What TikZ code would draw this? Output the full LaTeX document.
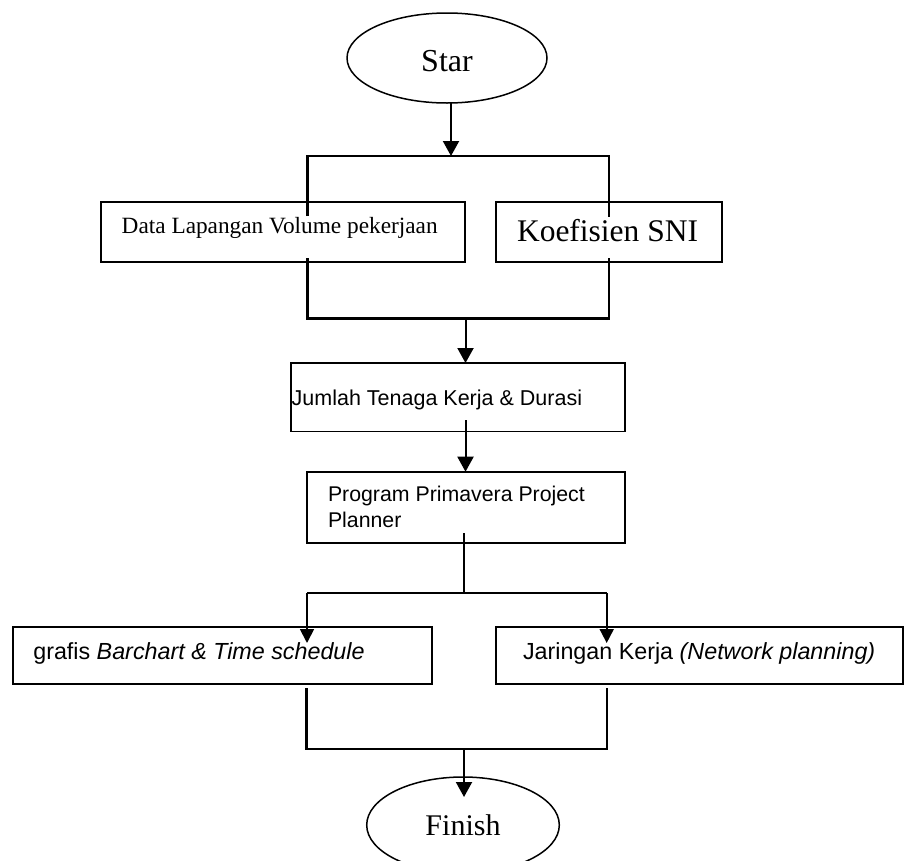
\documentclass[tikz,border=0pt]{standalone}
\usepackage{fontspec}
\setmainfont{Liberation Serif}
\newfontfamily\sansf{Liberation Sans}
\usetikzlibrary{arrows.meta,shapes.geometric,calc}
\begin{document}
\begin{tikzpicture}[x=1pt,y=-1pt,
  box/.style={draw, line width=1.8pt, anchor=north west, inner sep=0pt, outer sep=0pt},
  oval/.style={draw, ellipse, line width=1.5pt, inner sep=0pt, outer sep=0pt},
  txt/.style={anchor=base west, inner sep=0pt, outer sep=0pt},
  conn/.style={line width=2pt},
  arr/.style={line width=2pt, -{Triangle[width=16pt,length=15pt]}},
  arrsm/.style={line width=1.8pt, -{Triangle[width=14pt,length=14pt]}},
  bracket/.style={line width=2.8pt, line join=miter}]
\clip (0,0) rectangle (904,860);
\fill[white] (0,0) rectangle (904,860);

% nodes
\node[oval, minimum width=200pt, minimum height=90pt, font=\fontsize{32}{38}\selectfont, text height=27.4pt, text depth=0pt] (star) at (447,58) {Star};

\node[box, minimum width=364pt, minimum height=60.5pt] (data) at (101,201.7) {};
\node[txt, font=\fontsize{23.3}{28}\selectfont] (tdata) at (121.7,233.3) {Data Lapangan Volume pekerjaan};
\node[box, minimum width=226pt, minimum height=60.5pt] (koef) at (496,201.7) {};
\node[txt, font=\fontsize{31.5}{38}\selectfont] (tkoef) at (517,241.7) {Koefisien SNI};

\node[box, minimum width=334pt, minimum height=68.5pt] (jumlah) at (291,363) {};
\node[txt, font=\sansf\fontsize{21.5}{26}\selectfont] (tjumlah) at (291.7,405) {Jumlah Tenaga Kerja \& Durasi};

\node[box, minimum width=318pt, minimum height=71.3pt] (prog) at (307,471.7) {};
\node[txt, font=\sansf\fontsize{21.3}{26}\selectfont] (tprog1) at (328,501.7) {Program Primavera Project};
\node[txt, font=\sansf\fontsize{21.3}{26}\selectfont] (tprog2) at (328,527.5) {Planner};

\node[box, minimum width=419.6pt, minimum height=57pt] (gbox) at (12.7,627) {};
\node[txt, font=\sansf\fontsize{23.3}{28}\selectfont] (tg) at (33.3,659.3) {grafis \textit{Barchart \& Time schedule}};
\node[box, minimum width=407pt, minimum height=57pt] (jbox) at (496,627) {};
\node[txt, font=\sansf\fontsize{23.3}{28}\selectfont] (tj) at (523,659.3) {Jaringan Kerja \textit{(Network planning)}};

\node[oval, minimum width=192.6pt, minimum height=96pt, font=\fontsize{30}{36}\selectfont, text height=20.5pt, text depth=0pt] (finish) at (463,825) {Finish};

% junction coordinates
\coordinate (j1) at (451,156);
\coordinate (tl) at (307.7,156);
\coordinate (tr) at (609,156);
\coordinate (bl) at (307.7,318.5);
\coordinate (br) at (609,318.5);
\coordinate (j2) at (465.5,318.5);
\coordinate (j3) at (464,593);
\coordinate (b1) at (307,593);
\coordinate (b2) at (606.7,593);
\coordinate (c1) at (306.7,749);
\coordinate (c2) at (607,749);
\coordinate (j4) at (464,749);

% connectors
\draw[arr] (j1 |- star.south) -- (j1);
\draw[bracket] ($(data.north -| tl)+(0,14.5)$) -- (tl) -- (tr) -- ($(koef.north -| tr)+(0,15.5)$);
\draw[bracket] ($(data.south -| bl)+(0,-4)$) -- (bl) -- (br) -- ($(koef.south -| br)+(0,-4)$);
\draw[arr] (j2) -- (j2 |- jumlah.north);
\draw[arr] ($(jumlah.south -| j2)+(0,-11.5)$) -- (j2 |- prog.north);
\draw[conn] ($(prog.south -| j3)+(0,-10)$) -- (j3);
\draw[conn] (b1) -- (b2);
\draw[arrsm] (b1) -- ($(gbox.north -| b1)+(0,16)$);
\draw[arrsm] (b2) -- ($(jbox.north -| b2)+(0,16)$);
\draw[bracket] ($(gbox.south -| c1)+(0,4)$) -- (c1) -- (c2) -- ($(jbox.south -| c2)+(0,4)$);
\draw[arr] (j4) -- ($(finish.north -| j4)+(0,20)$);
\end{tikzpicture}
\end{document}
